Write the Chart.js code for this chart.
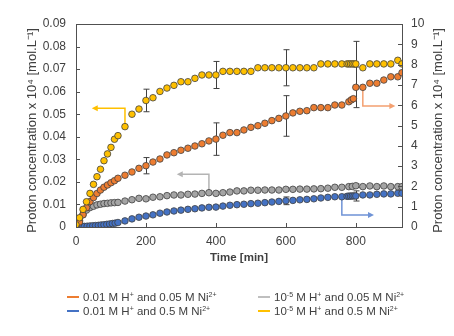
<!DOCTYPE html>
<html>
<head>
<meta charset="utf-8">
<script src="https://cdn.jsdelivr.net/npm/chart.js@4"></script>
<style>
  body { margin: 0; background: #fff; }
  #wrap { position: relative; width: 454px; height: 336px; }
  .leg { position: absolute; font: 11.5px "Liberation Sans", Arial, sans-serif; color: #404040; white-space: nowrap; line-height: 14px; }
  .leg i { display: inline-block; width: 12px; height: 2px; vertical-align: middle; margin-right: 4px; position: relative; top: -1px; }
  .leg sup { font-size: 7px; line-height: 0; vertical-align: 4px; }
</style>
</head>
<body>
<div id="wrap">
  <canvas id="chart" width="454" height="336"></canvas>
</div>
<script>
// time [min] and proton concentration per series
const orangeT = [0, 10, 20, 30, 40, 50, 60, 70, 80, 90, 100, 110, 120, 140, 160, 180, 200, 220, 240, 260, 280, 300, 320, 340, 360, 380, 400, 420, 440, 460, 480, 500, 520, 540, 560, 580, 600, 620, 640, 660, 680, 700, 720, 740, 760, 780, 787, 793, 800, 820, 840, 860, 880, 900, 920, 932];
const orangeV = [0, 0.25, 0.6, 0.95, 1.25, 1.45, 1.65, 1.82, 1.96, 2.07, 2.18, 2.28, 2.40, 2.55, 2.71, 2.89, 3.02, 3.2, 3.35, 3.55, 3.66, 3.78, 3.88, 3.99, 4.1, 4.24, 4.33, 4.52, 4.65, 4.65, 4.78, 4.91, 4.99, 5.11, 5.24, 5.35, 5.47, 5.62, 5.7, 5.73, 5.88, 5.88, 5.88, 6.01, 6.01, 6.17, 6.26, 6.32, 6.88, 6.88, 7.08, 7.08, 7.24, 7.4, 7.4, 7.6];

const blueT = [0, 8, 16, 24, 32, 40, 48, 56, 64, 72, 80, 88, 96, 104, 112, 120, 140, 160, 180, 200, 220, 240, 260, 280, 300, 320, 340, 360, 380, 400, 420, 440, 460, 480, 500, 520, 540, 560, 580, 600, 620, 640, 660, 680, 700, 720, 740, 760, 775, 780, 785, 790, 795, 800, 820, 840, 860, 880, 900, 920, 932];
const blueV = [0, 0.01, 0.02, 0.03, 0.04, 0.05, 0.06, 0.07, 0.08, 0.1, 0.11, 0.13, 0.15, 0.17, 0.19, 0.22, 0.3, 0.4, 0.48, 0.54, 0.6, 0.68, 0.74, 0.79, 0.83, 0.87, 0.9, 0.94, 0.97, 0.98, 1.03, 1.07, 1.1, 1.12, 1.15, 1.17, 1.2, 1.23, 1.26, 1.29, 1.31, 1.34, 1.36, 1.39, 1.43, 1.46, 1.49, 1.49, 1.51, 1.52, 1.52, 1.53, 1.53, 1.53, 1.58, 1.58, 1.61, 1.63, 1.63, 1.66, 1.66];

const grayT = [0, 10, 20, 30, 40, 50, 60, 70, 80, 90, 100, 110, 120, 140, 160, 180, 200, 220, 240, 260, 280, 300, 320, 340, 360, 380, 400, 420, 440, 460, 480, 500, 520, 540, 560, 580, 600, 620, 640, 660, 680, 700, 720, 740, 760, 780, 790, 800, 820, 840, 860, 880, 900, 920, 932];
const grayV = [0.0005, 0.003, 0.0055, 0.0075, 0.0086, 0.0092, 0.0098, 0.0101, 0.0104, 0.0105, 0.0107, 0.0108, 0.0109, 0.0115, 0.0121, 0.0127, 0.0125, 0.0132, 0.0134, 0.0139, 0.0142, 0.0142, 0.0145, 0.0146, 0.0149, 0.0152, 0.0149, 0.0152, 0.0155, 0.016, 0.016, 0.0163, 0.0163, 0.0164, 0.0164, 0.0164, 0.0167, 0.0167, 0.0168, 0.0168, 0.0169, 0.017, 0.0172, 0.0176, 0.0176, 0.0179, 0.018, 0.0183, 0.0179, 0.0182, 0.0179, 0.0182, 0.0179, 0.0179, 0.0179];

const yellowT = [0, 10, 20, 30, 40, 50, 60, 70, 80, 90, 100, 110, 120, 140, 160, 180, 200, 220, 240, 260, 280, 300, 320, 340, 360, 380, 400, 420, 440, 460, 480, 500, 520, 540, 560, 580, 600, 620, 640, 660, 680, 700, 720, 740, 760, 775, 780, 785, 790, 795, 800, 820, 840, 860, 880, 900, 920, 932];
const yellowV = [0.001, 0.0041, 0.0078, 0.0112, 0.0149, 0.0189, 0.0223, 0.0256, 0.0294, 0.0324, 0.0353, 0.0389, 0.0405, 0.0445, 0.0500, 0.0523, 0.0561, 0.0573, 0.0601, 0.0616, 0.0628, 0.0644, 0.0644, 0.0659, 0.0674, 0.0674, 0.0674, 0.0690, 0.0690, 0.0690, 0.0690, 0.0690, 0.0706, 0.0706, 0.0706, 0.0706, 0.0706, 0.0706, 0.0706, 0.0706, 0.0706, 0.0723, 0.0723, 0.0723, 0.0723, 0.0723, 0.0723, 0.0723, 0.0723, 0.0723, 0.0723, 0.0706, 0.0723, 0.0723, 0.0723, 0.0723, 0.0739, 0.0723];

// error bars (half width) at these times
const errT = [200, 400, 600, 800];
const orangeErr = [0.4, 0.8, 1.0, 1.0];
const blueErr = [0.03, 0.06, 0.19, 0.25];
const grayErr = [0.0006, 0.0006, 0.0006, 0.0008];
const yellowErr = [0.005, 0.006, 0.008, 0.01];

// arrows showing which axis a series belongs to: [time, value] waypoints
const orangeArrow = [[820, 6.88], [820, 5.96], [913, 5.96]];
const blueArrow = [[760, 1.49], [760, 0.59], [852, 0.59]];
const grayArrow = [[380, 0.0152], [380, 0.0234], [288, 0.0234]];
const yellowArrow = [[140, 0.0445], [140, 0.0526], [45, 0.0526]];

const legendLabels = [
  '0.01 M H<sup>+</sup> and 0.05 M Ni<sup>2+</sup>',
  '10<sup>-5</sup> M H<sup>+</sup> and 0.05 M Ni<sup>2+</sup>',
  '0.01 M H<sup>+</sup> and 0.5 M Ni<sup>2+</sup>',
  '10<sup>-5</sup> M H<sup>+</sup> and 0.5 M Ni<sup>2+</sup>'
];

const ORANGE = '#ED7D31', BLUE = '#4472C4', GRAY = '#A5A5A5', YELLOW = '#FFC000';
const FONT = '"Liberation Sans", Arial, sans-serif';
const yTitle = 'Proton concentration x 10\u2074 [mol.L\u207B\u00B9]';

function pts(t, v) {
  return t.map((x, i) => ({ x: x, y: v[i] }));
}

const series = [
  { label: legendLabels[3], t: yellowT, v: yellowV, err: yellowErr, color: YELLOW, axis: 'y', arrow: yellowArrow, arrowColor: '#FFC000' },
  { label: legendLabels[0], t: orangeT, v: orangeV, err: orangeErr, color: ORANGE, axis: 'y2', arrow: orangeArrow, arrowColor: '#F4A070' },
  { label: legendLabels[1], t: grayT, v: grayV, err: grayErr, color: GRAY, axis: 'y', arrow: grayArrow, arrowColor: '#B4B4B4' },
  { label: legendLabels[2], t: blueT, v: blueV, err: blueErr, color: BLUE, axis: 'y2', arrow: blueArrow, arrowColor: '#6F93D6' }
];

function drawArrow(ctx, chart, s) {
  const xs = chart.scales.x, ys = chart.scales[s.axis];
  const p = s.arrow.map(a => [xs.getPixelForValue(a[0]), ys.getPixelForValue(a[1])]);
  ctx.strokeStyle = s.arrowColor;
  ctx.fillStyle = s.arrowColor;
  ctx.lineWidth = 1.5;
  ctx.beginPath();
  ctx.moveTo(p[0][0], p[0][1]);
  ctx.lineTo(p[1][0], p[1][1]);
  const dir = Math.sign(p[2][0] - p[1][0]);
  ctx.lineTo(p[2][0] - dir * 4, p[2][1]);
  ctx.stroke();
  ctx.beginPath();
  ctx.moveTo(p[2][0], p[2][1]);
  ctx.lineTo(p[2][0] - dir * 6, p[2][1] - 3);
  ctx.lineTo(p[2][0] - dir * 6, p[2][1] + 3);
  ctx.closePath();
  ctx.fill();
}

function drawVTitle(ctx, x, y) {
  ctx.save();
  ctx.translate(x, y);
  ctx.rotate(-Math.PI / 2);
  ctx.font = '13px ' + FONT;
  ctx.fillStyle = '#404040';
  ctx.textAlign = 'center';
  ctx.textBaseline = 'middle';
  ctx.fillText(yTitle, 0, 0);
  ctx.restore();
}

const extras = {
  id: 'extras',
  beforeDatasetsDraw(chart) {
    const ctx = chart.ctx, xs = chart.scales.x;
    ctx.save();
    series.forEach(s => drawArrow(ctx, chart, s));
    ctx.strokeStyle = '#404040';
    ctx.lineWidth = 1;
    series.forEach(s => {
      const ys = chart.scales[s.axis];
      errT.forEach((t, i) => {
        const v = s.v[s.t.indexOf(t)];
        const px = Math.round(xs.getPixelForValue(t)) + 0.5;
        const y1 = ys.getPixelForValue(v + s.err[i]);
        const y2 = ys.getPixelForValue(v - s.err[i]);
        ctx.beginPath();
        ctx.moveTo(px, y1); ctx.lineTo(px, y2);
        ctx.moveTo(px - 3, y1); ctx.lineTo(px + 3, y1);
        ctx.moveTo(px - 3, y2); ctx.lineTo(px + 3, y2);
        ctx.stroke();
      });
    });
    ctx.restore();
  },
  afterDraw(chart) {
    const ctx = chart.ctx, a = chart.chartArea;
    const xs = chart.scales.x, yl = chart.scales.y, yr = chart.scales.y2;
    ctx.save();
    ctx.strokeStyle = '#505050';
    ctx.lineWidth = 1;
    ctx.strokeRect(Math.round(a.left) + 0.5, Math.round(a.top) + 0.5, Math.round(a.right - a.left), Math.round(a.bottom - a.top));
    ctx.beginPath();
    xs.ticks.forEach(t => {
      const px = Math.round(xs.getPixelForValue(t.value)) + 0.5;
      ctx.moveTo(px, a.bottom); ctx.lineTo(px, a.bottom - 4);
    });
    yl.ticks.forEach(t => {
      const py = Math.round(yl.getPixelForValue(t.value)) + 0.5;
      ctx.moveTo(a.left, py); ctx.lineTo(a.left + 4, py);
    });
    yr.ticks.forEach(t => {
      const py = Math.round(yr.getPixelForValue(t.value)) + 0.5;
      ctx.moveTo(a.right, py); ctx.lineTo(a.right - 4, py);
    });
    ctx.stroke();
    ctx.restore();
    // both axis titles read bottom to top
    const cy = (a.top + a.bottom) / 2 + 5;
    drawVTitle(ctx, 32, cy);
    drawVTitle(ctx, 438, cy);
  }
};

new Chart(document.getElementById('chart'), {
  type: 'scatter',
  data: {
    datasets: series.map(s => ({
      label: s.label,
      data: pts(s.t, s.v),
      yAxisID: s.axis,
      backgroundColor: s.color,
      borderColor: '#404040',
      borderWidth: 0.8,
      pointRadius: 3.3,
      showLine: false
    }))
  },
  options: {
    responsive: false,
    animation: false,
    layout: { padding: { left: 0, right: 0, top: 24, bottom: 66 } },
    plugins: { legend: { display: false }, tooltip: { enabled: false } },
    scales: {
      x: {
        type: 'linear', min: 0, max: 932,
        afterFit: s => { s.height = 43; },
        grid: { display: false, drawTicks: false },
        border: { display: false },
        ticks: { stepSize: 200, includeBounds: false, padding: 7, color: '#404040', font: { family: FONT, size: 12 } },
        title: { display: true, text: 'Time [min]', color: '#404040', padding: { top: 0, bottom: 5 }, font: { family: FONT, size: 11.5, weight: 'bold' } }
      },
      y: {
        position: 'left', min: 0, max: 0.09,
        afterFit: s => { s.width = 76; },
        grid: { display: false, drawTicks: false },
        border: { display: false },
        ticks: { stepSize: 0.01, padding: 10, color: '#404040', font: { family: FONT, size: 12 },
          callback: v => v === 0 ? '0' : v.toFixed(2) }
      },
      y2: {
        position: 'right', min: 0, max: 10,
        afterFit: s => { s.width = 52; },
        grid: { display: false, drawTicks: false },
        border: { display: false },
        ticks: { stepSize: 1, padding: 9, color: '#404040', font: { family: FONT, size: 12 } }
      }
    }
  },
  plugins: [extras]
});

// legend below the plot, two rows of two
const legendItems = [
  { html: legendLabels[0], color: ORANGE, left: 67, top: 290 },
  { html: legendLabels[1], color: '#BFBFBF', left: 258, top: 290 },
  { html: legendLabels[2], color: BLUE, left: 67, top: 304 },
  { html: legendLabels[3], color: YELLOW, left: 258, top: 304 }
];
const wrap = document.getElementById('wrap');
legendItems.forEach(it => {
  const d = document.createElement('div');
  d.className = 'leg';
  d.style.left = it.left + 'px';
  d.style.top = it.top + 'px';
  d.innerHTML = '<i style="background:' + it.color + '"></i>' + it.html;
  wrap.appendChild(d);
});
</script>
</body>
</html>
